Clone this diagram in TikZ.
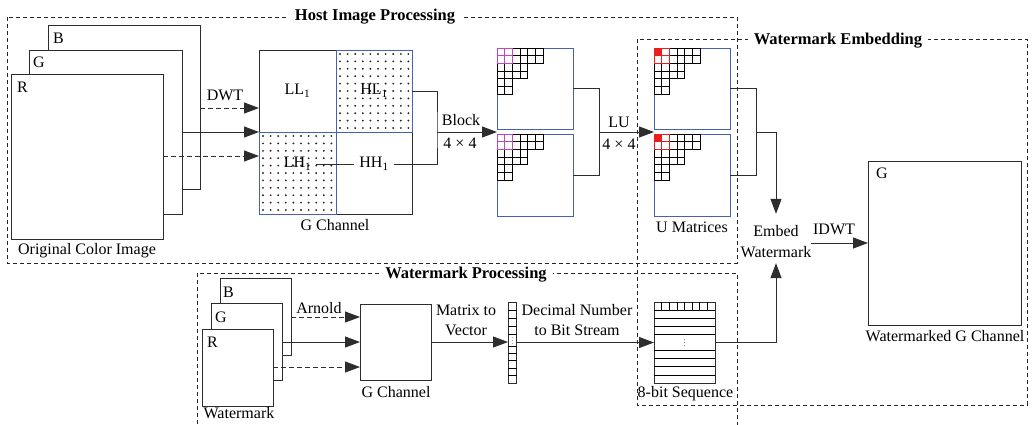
\documentclass[tikz,border=0pt]{standalone}
\usepackage{fontspec}
\setmainfont{Liberation Serif}
\usetikzlibrary{arrows.meta,calc}

\definecolor{frameline}{RGB}{45,45,45}
\definecolor{bandblue}{RGB}{72,96,176}
\definecolor{hlmag}{RGB}{190,70,190}
\definecolor{hlred}{RGB}{235,30,30}
\definecolor{dotcol}{RGB}{40,40,40}

% staircase of 2x2 coefficient blocks (rows of 6, 6, 4, 4, 2, 2 cells)
\newcommand\stairgridcells{%
  \foreach \r/\n in {0/6,1/6,2/4,3/4,4/2,5/2}{%
    \foreach \c in {1,...,\n}{%
      \draw[gridline] ({(\c-1)*7.7},{\r*7.7}) rectangle ++(7.7,7.7);
    }%
  }%
}
% dotted texture for the high-frequency sub-bands
\newcommand\dotfield[2]{%
  \foreach \i in {0,...,9}{%
    \foreach \j in {0,...,10}{%
      \fill[dotcol] ({#1+4+\i*7.6},{#2+4+\j*7.4}) circle (1.05pt);
    }%
  }%
}

\tikzset{
  blockgrid/.pic={\stairgridcells
    \foreach \a/\b in {0/0,1/0,0/1,1/1}
      \draw[hlmag, line width=0.8pt] ({\a*7.7},{\b*7.7}) rectangle ++(7.7,7.7);},
  ugrid/.pic={\stairgridcells
    \fill[hlred] (0,0) rectangle (7.7,7.7);
    \foreach \a/\b in {0/0,1/0,0/1,1/1}
      \draw[hlred, line width=0.8pt] ({\a*7.7},{\b*7.7}) rectangle ++(7.7,7.7);},
}

\begin{document}
\begin{tikzpicture}[x=1pt,y=-1pt,
  every node/.style={font=\fontsize{16}{20}\selectfont, inner sep=0pt, outer sep=0pt},
  panel/.style={draw=frameline, line width=1pt, fill=white, inner sep=0pt, outer sep=0pt, anchor=north west},
  bluepanel/.style={panel, draw=bandblue},
  groupbox/.style={draw=black!85, line width=0.8pt, dash pattern=on 4pt off 3pt},
  grouptitle/.style={font=\fontsize{16.5}{20}\selectfont\bfseries, fill=white, inner xsep=6pt, inner ysep=0pt, text height=11pt, text depth=3pt, anchor=base},
  flow/.style={draw=frameline, line width=1pt, -{Triangle[length=15pt,width=11pt]}},
  dflow/.style={flow, dash pattern=on 5pt off 3pt},
  link/.style={draw=frameline, line width=1pt},
  gridline/.style={draw=black, line width=0.85pt},
  lbl/.style={anchor=base},
  corner/.style={anchor=base west},
]
\clip (0,0) rectangle (1032,424);

% ---------- group frames ----------
\draw[groupbox] (7,17) rectangle (737,263);
\draw[groupbox] (637,39) rectangle (1027,405);
\draw[groupbox] (197,273) rectangle (737,440);

% ---------- original colour image ----------
\node[panel, minimum width=152, minimum height=164] (oB) at (48,25) {};
\node[panel, minimum width=153, minimum height=164] (oG) at (29,50) {};
\node[panel, minimum width=152, minimum height=165] (oR) at (11,74) {};
\node[corner] at ($(oB.north west)+(5,18)$) {B};
\node[corner] at ($(oG.north west)+(4,17)$) {G};
\node[corner] at ($(oR.north west)+(6,18)$) {R};
\node[lbl] (ocap) at (87,254) {Original Color Image};

% ---------- one-level DWT of the G channel ----------
\node[panel, minimum width=77, minimum height=82] (LL) at (259,50) {};
\node[panel, minimum width=76, minimum height=82] (HH) at (336,132) {};
\node[bluepanel, minimum width=76, minimum height=82] (HL) at (336,50) {};
\node[bluepanel, minimum width=77, minimum height=82] (LH) at (259,132) {};
\dotfield{336}{50}
\dotfield{259}{132}
\node (llt) at (297.5,91) {LL\textsubscript{1}};
\node (hlt) at (374,91) {HL\textsubscript{1}};
\node[inner xsep=5pt] (lht) at (297.5,164) {LH\textsubscript{1}};
\node[inner xsep=5pt] (hht) at (374,164) {HH\textsubscript{1}};
\node[lbl] (gcap) at (335,230) {G Channel};

\draw[dflow] (oB.east |- 0,108) -- (LL.west |- 0,108);
\draw[flow]  (oG.east |- 0,132) -- (LL.west |- 0,132);
\draw[dflow] (oR.east |- 0,156) -- (LH.west |- 0,156);
\node[lbl] at (225,100) {DWT};

\draw[link] (lht.east) -- (hht.west);
\coordinate (bj) at (437,132);
\draw[link] (hht.east) -| (bj) |- (HL.east);

% ---------- 4x4 blocks ----------
\node[bluepanel, minimum width=76, minimum height=81] (bk1) at (497,48) {};
\node[bluepanel, minimum width=76, minimum height=82] (bk2) at (497,134) {};
\pic at (bk1.north west) {blockgrid};
\pic at (bk2.north west) {blockgrid};
\draw[flow] (bj) -- (bk1.west |- bj);
\node[lbl] at (461,125) {Block};
\node[lbl] at (460,148) {4 × 4};

% ---------- LU decomposition ----------
\node[bluepanel, minimum width=76, minimum height=81] (u1) at (654,48) {};
\node[bluepanel, minimum width=76, minimum height=82] (u2) at (654,134) {};
\pic at (u1.north west) {ugrid};
\pic at (u2.north west) {ugrid};
\coordinate (bj2) at (599,132);
\draw[link] (bk1.east) -| (bj2) |- (bk2.east);
\draw[flow] (bj2) -- (u1.west |- bj2);
\node[lbl] at (619,127) {LU};
\node[lbl] at (619,149) {4 × 4};
\node[lbl] (ucap) at (692,232) {U Matrices};

% ---------- embedding ----------
\node[align=center, font=\fontsize{16}{21}\selectfont] (embed) at (776,242) {Embed\\Watermark};
\coordinate (bj3) at (756,132);
\draw[link] (u1.east) -| (bj3) |- (u2.east);
\draw[flow] (bj3) -| ([yshift=12pt]embed.north);

\node[panel, minimum width=153, minimum height=164] (wg) at (868,161) {};
\node[corner] at ($(wg.north west)+(8,17)$) {G};
\node[lbl] (wgcap) at (945,341) {Watermarked G Channel};
\draw[flow] (embed.east |- wg.west) -- (wg.west);
\node[lbl] at (834,234) {IDWT};

% ---------- watermark processing ----------
\node[panel, minimum width=71, minimum height=77] (wB) at (220,278) {};
\node[panel, minimum width=71, minimum height=77] (wG) at (211,303) {};
\node[panel, minimum width=71, minimum height=77] (wR) at (202,329) {};
\node[corner] at ($(wB.north west)+(3,19)$) {B};
\node[corner] at ($(wG.north west)+(4,19)$) {G};
\node[corner] at ($(wR.north west)+(5,18)$) {R};
\node[lbl] (wcap) at (239,418) {Watermark};

\node[panel, minimum width=71, minimum height=76] (gch) at (360,304) {};
\node[lbl] (gchcap) at (396,397) {G Channel};
\draw[dflow] (wB.east |- 0,317) -- (gch.west |- 0,317);
\draw[flow]  (wG.east |- 0,342) -- (gch.west |- 0,342);
\draw[dflow] (wR.east |- 0,367) -- (gch.west |- 0,367);
\node[lbl] at (319,313) {Arnold};

% column vector
\node[panel, minimum width=8.5, minimum height=81] (vec) at (508,302) {};
\foreach \yy in {310,318,326,334,346,353.4,360.8,368.2,375.6}
  \draw[gridline, line width=0.75pt] (508,\yy) -- (516.5,\yy);
\foreach \yy in {337.5,340.5,343.5}
  \fill[black!70] (512.2,\yy) circle (0.4pt);
\draw[flow] (gch.east) -- (vec.west |- gch.east);
\node[align=center] at (466,320.5) {Matrix to\\Vector};

% 8-bit sequence
\node[panel, minimum width=61, minimum height=81] (bits) at (654,302) {};
\foreach \yy in {310,318.3,326.7,334.3,350,358.3,366.7,375}
  \draw[gridline] (654,\yy) -- (715,\yy);
\foreach \k in {1,...,7}
  \draw[gridline, line width=0.75pt] ({654+\k*7.625},302) -- ({654+\k*7.625},310);
\foreach \yy in {339.5,342.5,345.5}
  \fill[black!70] (684.5,\yy) circle (0.4pt);
\draw[flow] (vec.east) -- (bits.west |- vec.east);
\node[align=center] at (577,320) {Decimal Number\\to Bit Stream};
\node[lbl] (bitscap) at (685.5,397) {8-bit Sequence};

\draw[flow] (bits.east) -| ([yshift=-5pt]embed.south);

% ---------- group titles ----------
\node[grouptitle] at (375,20) {Host Image Processing};
\node[grouptitle] at (838,44) {Watermark Embedding};
\node[grouptitle] at (466,278) {Watermark Processing};
\end{tikzpicture}
\end{document}
